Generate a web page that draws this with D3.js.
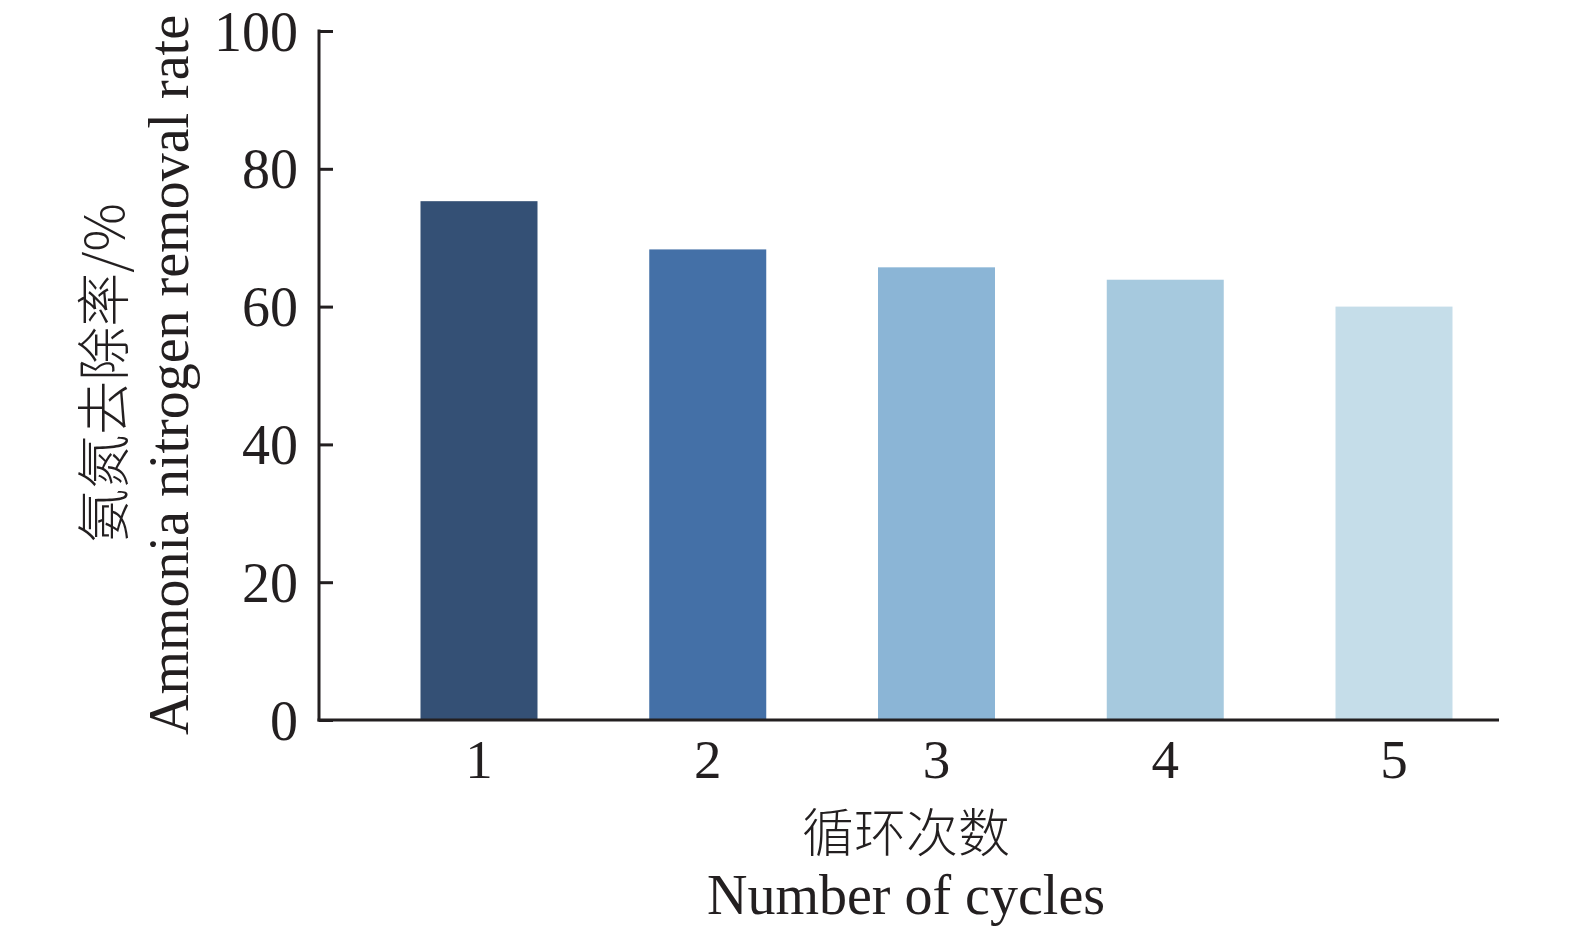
<!DOCTYPE html>
<html><head><meta charset="utf-8">
<script src="https://cdn.jsdelivr.net/npm/d3@7"></script>
<style>body{margin:0;background:#fff}</style>
</head><body>
<script>
const categories = ["1","2","3","4","5"];
const removalRate = [75.3, 68.3, 65.7, 63.9, 60.0];
const barColors = ["#345075","#4470a7","#8bb5d6","#a6c9de","#c5dde9"];
const yTicks = [0,20,40,60,80,100];
const yTitleCN = "氨氮去除率/%";
const yTitleEN = "Ammonia nitrogen removal rate";
const xTitleCN = "循环次数";
const xTitleEN = "Number of cycles";

const W = 1575, H = 935;
const serif = "'Liberation Serif','Times New Roman',serif";
const cjk = "'Noto Sans CJK SC',sans-serif";
const svg = d3.select("body").append("svg").attr("width",W).attr("height",H);

const axisX0 = 319, axisX1 = 1499;
const y = d3.scaleLinear().domain([0,100]).range([720,31]);
const x = d3.scalePoint().domain(categories).range([479,1394]);
const barW = 117;

svg.selectAll("rect.bar").data(categories).enter().append("rect")
  .attr("x", d => x(d) - barW/2)
  .attr("y", (d,i) => y(removalRate[i]))
  .attr("width", barW)
  .attr("height", (d,i) => y(0) - y(removalRate[i]))
  .attr("fill", (d,i) => barColors[i]);

// y axis
const yAxis = svg.append("g").attr("transform",`translate(${axisX0},0)`)
  .call(d3.axisRight(y).tickValues(yTicks).tickSize(14).tickFormat(""));
yAxis.select(".domain").remove();
yAxis.selectAll("line").attr("stroke","#231f20").attr("stroke-width",3);
svg.append("line").attr("x1",axisX0).attr("x2",axisX0).attr("y1",y(100)-1.5).attr("y2",y(0)+1.5)
  .attr("stroke","#231f20").attr("stroke-width",3);
svg.selectAll("text.ytick").data(yTicks).enter().append("text")
  .attr("x", 298).attr("y", d => y(d)).attr("dy","0.35em")
  .attr("text-anchor","end").attr("font-family",serif).attr("font-size",56).attr("fill","#231f20")
  .text(d => d);

// x axis
svg.append("line").attr("x1",axisX0-1.5).attr("x2",axisX1).attr("y1",y(0)).attr("y2",y(0))
  .attr("stroke","#231f20").attr("stroke-width",3);
svg.selectAll("text.xtick").data(categories).enter().append("text")
  .attr("x", d => x(d)).attr("y", 778)
  .attr("text-anchor","middle").attr("font-family",serif).attr("font-size",55).attr("fill","#231f20")
  .text(d => d);

// titles
svg.append("text").attr("x",906).attr("y",852).attr("text-anchor","middle")
  .attr("font-family",cjk).attr("font-weight",300).attr("font-size",52).attr("fill","#231f20").text(xTitleCN);
svg.append("text").attr("x",906).attr("y",914).attr("text-anchor","middle")
  .attr("font-family",serif).attr("font-size",56).attr("fill","#231f20").text(xTitleEN);
svg.append("text").attr("transform","translate(124,373) rotate(-90)").attr("text-anchor","middle")
  .attr("font-family",cjk).attr("font-weight",300).attr("font-size",54).attr("fill","#231f20").text(yTitleCN);
svg.append("text").attr("transform","translate(188,375) rotate(-90)").attr("text-anchor","middle")
  .attr("font-family",serif).attr("font-size",56).attr("fill","#231f20").text(yTitleEN);
</script>
</body></html>
